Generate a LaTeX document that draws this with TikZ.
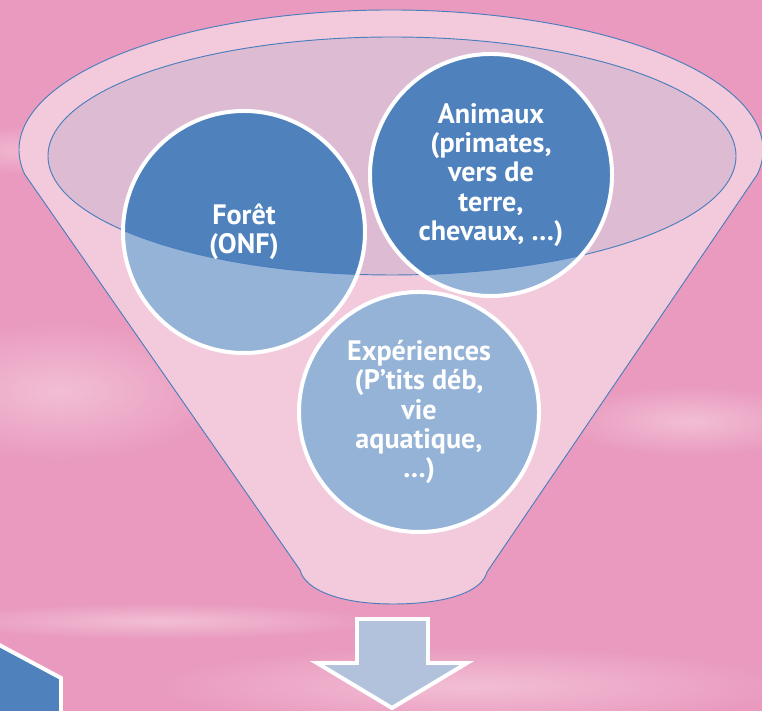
\documentclass[tikz,border=0pt]{standalone}
\usepackage{fontspec}
\setsansfont{PT Sans}
\usepackage{xcolor}
\definecolor{skypink}{RGB}{233,154,190}
\definecolor{cloudpink}{RGB}{242,190,213}
\definecolor{funnelpink}{RGB}{243,202,220}
\definecolor{rimmauve}{RGB}{221,188,211}
\definecolor{rimblue}{RGB}{74,126,189}
\definecolor{deepblue}{RGB}{79,129,189}
\definecolor{paleblue}{RGB}{149,179,215}
\definecolor{arrowblue}{RGB}{178,194,221}

\begin{document}
\begin{tikzpicture}[x=0.03cm, y=0.03cm,
    bubble/.style={circle, draw=white, line width=3.4pt, minimum size=7.26cm,
      inner sep=0pt, text=white, align=center,
      font=\sffamily\bfseries\fontsize{24}{25}\selectfont},
    streak/.style={inner color=cloudpink, outer color=skypink}]
    \useasboundingbox (0,0) rectangle (762,711);
    \clip (0,0) rectangle (762,711);

    % Sky background
    \fill[skypink] (0,0) rectangle (762,711);
    \shade[streak] (60,561) ellipse (150 and 25);
    \shade[streak] (60,320) ellipse (170 and 70);
    \shade[streak] (690,290) ellipse (130 and 35);
    \shade[streak] (160,90) ellipse (220 and 18);
    \shade[streak] (470,25) ellipse (320 and 40);

    % Funnel body with rim
    \filldraw[fill=funnelpink, draw=rimblue, line width=0.8pt]
      (300,141) -- (24.7,536.7)
      arc[start angle=190, end angle=-10, x radius=372, y radius=140]
      -- (487,139) .. controls (482,119) and (446,107) .. (393,107)
      .. controls (340,107) and (305,121) .. (300,141) -- cycle;
    \fill[rimmauve] (392,555) ellipse (344 and 119);

    % Bubbles (dark where they sit in the mouth)
    \coordinate (cforet) at (244,479);
    \coordinate (canimaux) at (491,536);
    \coordinate (cexp) at (419,299);
    \fill[paleblue] (cforet) circle (121) (canimaux) circle (121) (cexp) circle (120);
    \begin{scope}
      \clip (392,555) ellipse (344 and 119);
      \fill[deepblue] (cforet) circle (121) (canimaux) circle (121);
    \end{scope}
    \draw[rimblue, line width=0.8pt] (392,555) ellipse (344 and 119);

    \node[bubble] (foret) at (cforet) {Forêt\\(ONF)};
    \node[bubble] (animaux) at (canimaux) {Animaux\\(primates,\\vers de\\terre,\\chevaux, …)};
    \node[bubble, minimum size=7.2cm] (experiences) at (cexp) {Expériences\\(P’tits déb,\\vie\\aquatique,\\…)};

    % Arrow out of the funnel
    \filldraw[fill=arrowblue, draw=white, line width=3.4pt]
      (357,92) -- (428,92) -- (428,48) -- (467,48) -- (392,3)
      -- (317,48) -- (357,48) -- cycle;

    % Corner shape, bottom left
    \filldraw[fill=deepblue, draw=white, line width=3.4pt]
      (-10,71) -- (61,33) -- (61,-10) -- (-10,-10) -- cycle;
\end{tikzpicture}
\end{document}
